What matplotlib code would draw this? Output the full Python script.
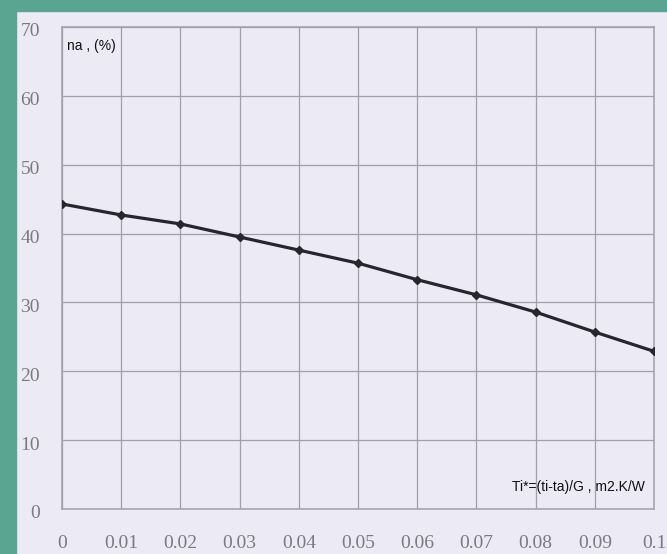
import matplotlib
matplotlib.use("Agg")
from matplotlib import pyplot as plt
from matplotlib.patches import Rectangle
from matplotlib.transforms import ScaledTranslation

# values
x_vals = [0, 0.01, 0.02, 0.03, 0.04, 0.05, 0.06, 0.07, 0.08, 0.09, 0.1]
eff_vals = [44.3, 42.7, 41.4, 39.5, 37.6, 35.7, 33.3, 31.1, 28.6, 25.7, 22.9]
x_ticks = [0, 0.01, 0.02, 0.03, 0.04, 0.05, 0.06, 0.07, 0.08, 0.09, 0.1]
x_tick_labels = ["0", "0.01", "0.02", "0.03", "0.04", "0.05", "0.06", "0.07", "0.08", "0.09", "0.1"]
y_ticks = [0, 10, 20, 30, 40, 50, 60, 70]

paper = "#eceaf5"
teal = "#5aa592"
grid_col = "#a0a0aa"
tick_col = "#7a7a80"

fig = plt.figure(figsize=(6.67, 5.54), dpi=100, facecolor=paper)
# teal frame of the screenshot (left strip and top band)
fig.patches.append(Rectangle((0, 0), 16 / 667, 1, transform=fig.transFigure, color=teal, zorder=0))
fig.patches.append(Rectangle((0, 1 - 11 / 554), 1, 11 / 554, transform=fig.transFigure, color=teal, zorder=0))

ax = fig.add_axes([62 / 667, 45 / 554, 592 / 667, 482 / 554])
ax.set_facecolor(paper)
ax.plot(x_vals, eff_vals, color="#26262f", lw=2.3, marker="D", ms=3.8, zorder=3)

ax.set_xlim(0, 0.1)
ax.set_ylim(0, 70)
ax.set_xticks(x_ticks)
ax.set_xticklabels(x_tick_labels)
ax.set_yticks(y_ticks)
ax.grid(True, color=grid_col, lw=0.9)
for s in ax.spines.values():
    s.set_color(grid_col)
    s.set_linewidth(1.1)
ax.tick_params(length=0, colors=tick_col, labelsize=14)
ax.tick_params(axis="x", pad=19)
ax.tick_params(axis="y", pad=16)
for lab in ax.get_xticklabels() + ax.get_yticklabels():
    lab.set_family("Liberation Serif")
# the scanned y labels sit a little below their grid lines
shift = ScaledTranslation(0, -3 / 100, fig.dpi_scale_trans)
for lab in ax.get_yticklabels():
    lab.set_transform(lab.get_transform() + shift)

ax.text(0.008, 0.975, "na , (%)", transform=ax.transAxes, ha="left", va="top",
        fontsize=10, family="Liberation Sans", color="#111111")
ax.text(0.985, 0.045, "Ti*=(ti-ta)/G , m2.K/W", transform=ax.transAxes, ha="right", va="center",
        fontsize=10, family="Liberation Sans", color="#111111")

plt.savefig("out.png", dpi=100, facecolor=fig.get_facecolor())
